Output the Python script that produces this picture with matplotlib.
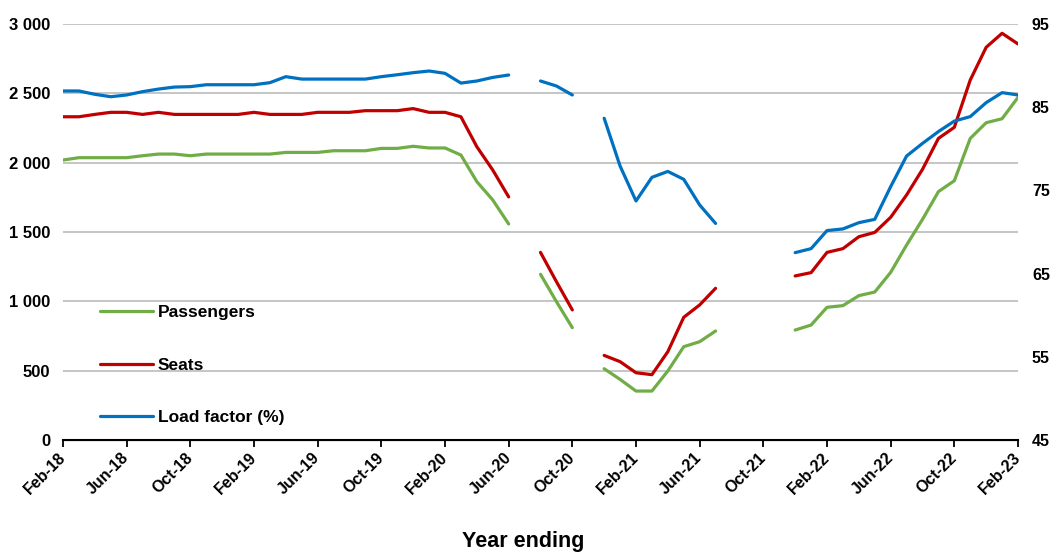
import numpy as np
import pandas as pd
import matplotlib
matplotlib.use('Agg')
import matplotlib.pyplot as plt

nan = np.nan

# Monthly, year ending Feb-18 .. Feb-23 (61 points); gaps are missing months
months = pd.date_range('2018-02-01', '2023-02-01', freq='MS').strftime('%b-%y').tolist()

passengers = [
    2019, 2036, 2036, 2036, 2036, 2050, 2062, 2062, 2050, 2062,
    2062, 2062, 2062, 2062, 2074, 2074, 2074, 2086, 2086, 2086,
    2103, 2103, 2118, 2106, 2106, 2055, 1863, 1731, 1558, nan,
    1195, 998, 810, nan, 514, 437, 353, 353, 498, 673,
    709, 786, nan, nan, nan, nan, 793, 829, 957, 969,
    1041, 1067, 1209, 1406, 1591, 1791, 1870, 2175, 2288, 2317,
    2471,
]

seats = [
    2331, 2331, 2348, 2363, 2363, 2348, 2363, 2348, 2348, 2348,
    2348, 2348, 2363, 2348, 2348, 2348, 2363, 2363, 2363, 2375,
    2375, 2375, 2390, 2363, 2363, 2331, 2115, 1947, 1753, nan,
    1353, 1142, 938, nan, 610, 565, 485, 471, 637, 885,
    974, 1094, nan, nan, nan, nan, 1183, 1207, 1353, 1380,
    1466, 1497, 1606, 1767, 1952, 2175, 2255, 2596, 2832, 2933,
    2856,
]

# load factor (%), right axis
load_factor = [
    86.95, 86.95, 86.55, 86.26, 86.47, 86.87, 87.18, 87.42, 87.47, 87.70,
    87.70, 87.70, 87.70, 87.95, 88.67, 88.38, 88.38, 88.38, 88.38, 88.38,
    88.67, 88.90, 89.15, 89.35, 89.07, 87.90, 88.15, 88.58, 88.87, nan,
    88.15, 87.55, 86.47, nan, 83.67, 77.93, 73.73, 76.57, 77.28, 76.33,
    73.25, 71.03, nan, nan, nan, nan, 67.52, 68.00, 70.17, 70.37,
    71.12, 71.52, 75.45, 79.13, 80.65, 82.07, 83.33, 83.87, 85.55, 86.75,
    86.47,
]

x = np.arange(len(months))

plt.rcParams['font.family'] = ['Liberation Sans', 'DejaVu Sans']
plt.rcParams['font.weight'] = 'bold'

fig = plt.figure(figsize=(10.51, 5.53), dpi=100)
ax = fig.add_axes([63 / 1051, 1 - 440 / 553, (1018 - 63) / 1051, (440 - 24) / 553])
ax2 = ax.twinx()

green = '#70AD47'
red = '#C00000'
blue = '#0070C0'

l1, = ax.plot(x, passengers, color=green, lw=2.3, label='Passengers', solid_capstyle='round')
l2, = ax.plot(x, seats, color=red, lw=2.3, label='Seats', solid_capstyle='round')
l3, = ax2.plot(x, load_factor, color=blue, lw=2.3, label='Load factor (%)', solid_capstyle='round')

ax.set_xlim(0, 60)
ax.set_ylim(0, 3000)
ax2.set_ylim(45, 95)
ax.set_yticks(np.arange(0, 3001, 500))
ax.set_yticklabels([f'{v:,}'.replace(',', ' ') for v in range(0, 3001, 500)], fontsize=12, fontweight='bold')
ax2.set_yticks(np.arange(45, 96, 10))
ax2.set_yticklabels([str(v) for v in range(45, 96, 10)], fontsize=11.5, fontweight='bold')

ax.set_xticks(x[::4])
ax.set_xticklabels(months[::4], rotation=45, ha='right', va='center',
                   rotation_mode='anchor', fontsize=11.5, fontweight='bold')

ax.grid(axis='y', color='#c0c0c0', lw=1.3)
ax.set_axisbelow(True)
for a in (ax, ax2):
    for s in ('left', 'right', 'top'):
        a.spines[s].set_visible(False)
ax.spines['bottom'].set_color('black')
ax.spines['bottom'].set_linewidth(1.5)
ax.tick_params(axis='x', direction='out', length=5, width=1.3, pad=6)
ax.tick_params(axis='y', length=0, pad=9)
ax2.tick_params(axis='y', length=0, pad=10)

ax.legend(handles=[l1, l2, l3], loc='lower left', bbox_to_anchor=(0.022, -0.002),
          frameon=False, handlelength=3.05, handletextpad=0.3,
          labelspacing=2.15, prop={'weight': 'bold', 'size': 12.5})

fig.text(523 / 1051, 1 - 541 / 553, 'Year ending', ha='center', va='center',
         fontsize=15.5, fontweight='bold')

fig.savefig('out.png', dpi=100)
